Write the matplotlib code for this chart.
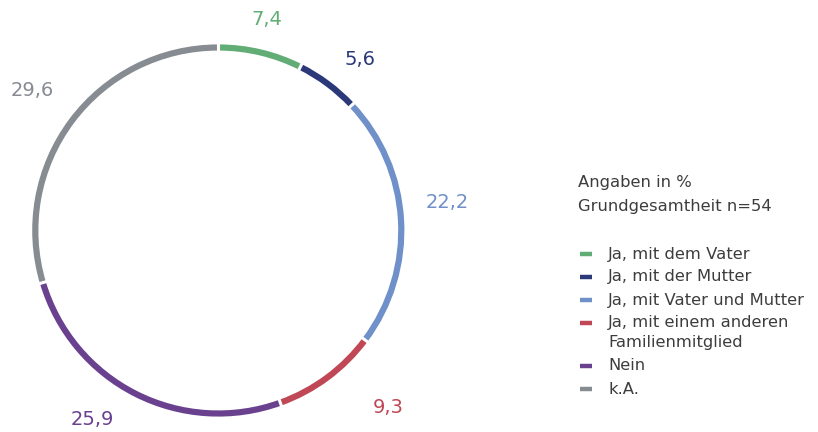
import numpy as np
import matplotlib
matplotlib.use("Agg")
import matplotlib.pyplot as plt

categories = ["Ja, mit dem Vater", "Ja, mit der Mutter", "Ja, mit Vater und Mutter",
              "Ja, mit einem anderen\nFamilienmitglied", "Nein", "k.A."]
values = [7.4, 5.6, 22.2, 9.3, 25.9, 29.6]
value_labels = ["7,4", "5,6", "22,2", "9,3", "25,9", "29,6"]
colors = ["#62ad76", "#2b3979", "#7090c9", "#bf4756", "#6a418f", "#878b92"]
header = ["Angaben in %", "Grundgesamtheit n=54"]

plt.rcParams["font.family"] = ["DejaVu Sans"]
text_color = "#3d3d3d"

fig = plt.figure(figsize=(8.18, 4.32), dpi=100)
ax = fig.add_axes([0, 0, 1, 1])

cx, cy, R = 218.3, 201.5, 183.0
ring_w = 6.2

ax.pie(values, colors=colors, startangle=90, counterclock=False,
       center=(cx, cy), radius=R + ring_w / 2,
       wedgeprops=dict(width=ring_w, edgecolor="none", linewidth=0))

# thin white gaps between the segments
total = sum(values)
bounds = np.cumsum([0] + values[:-1]) / total
for b in bounds:
    a = np.deg2rad(90 - 360 * b)
    r0, r1 = R - ring_w, R + ring_w
    ax.plot([cx + r0 * np.cos(a), cx + r1 * np.cos(a)],
            [cy + r0 * np.sin(a), cy + r1 * np.sin(a)],
            color="white", lw=2.2, solid_capstyle="butt", zorder=5)

# value labels outside the ring, near each segment's mid angle
label_r = [216, 222, 231, 245, 227, 233]
label_shift = [-0.4, 3.1, -3.8, -7.3, 7.0, 0.2]
for v, b, lab, col, lr, sh in zip(values, bounds, value_labels, colors, label_r, label_shift):
    mid = 360 * (b + v / total / 2) + sh
    ang = np.deg2rad(90 - mid)
    ax.text(cx + lr * np.cos(ang), cy + lr * np.sin(ang), lab, color=col,
            fontsize=14, ha="center", va="center")

ax.set_xlim(0, 818)
ax.set_ylim(0, 432)
ax.set_aspect("auto")
ax.axis("off")

# header and legend
ax.text(578, 432 - 183, header[0], fontsize=11.8, color=text_color, va="center", ha="left")
ax.text(578, 432 - 207, header[1], fontsize=11.8, color=text_color, va="center", ha="left")

leg_y = [254, 277, 300, 323, 366, 389]
for lab, col, y in zip(categories, colors, leg_y):
    ax.plot([580, 592], [432 - y, 432 - y], color=col, lw=3.2, solid_capstyle="butt")
    for i, line in enumerate(lab.split("\n")):
        ax.text(608, 432 - y - 20 * i, line, fontsize=11.8, color=text_color,
                va="center", ha="left")

fig.savefig("out.png", dpi=100)
